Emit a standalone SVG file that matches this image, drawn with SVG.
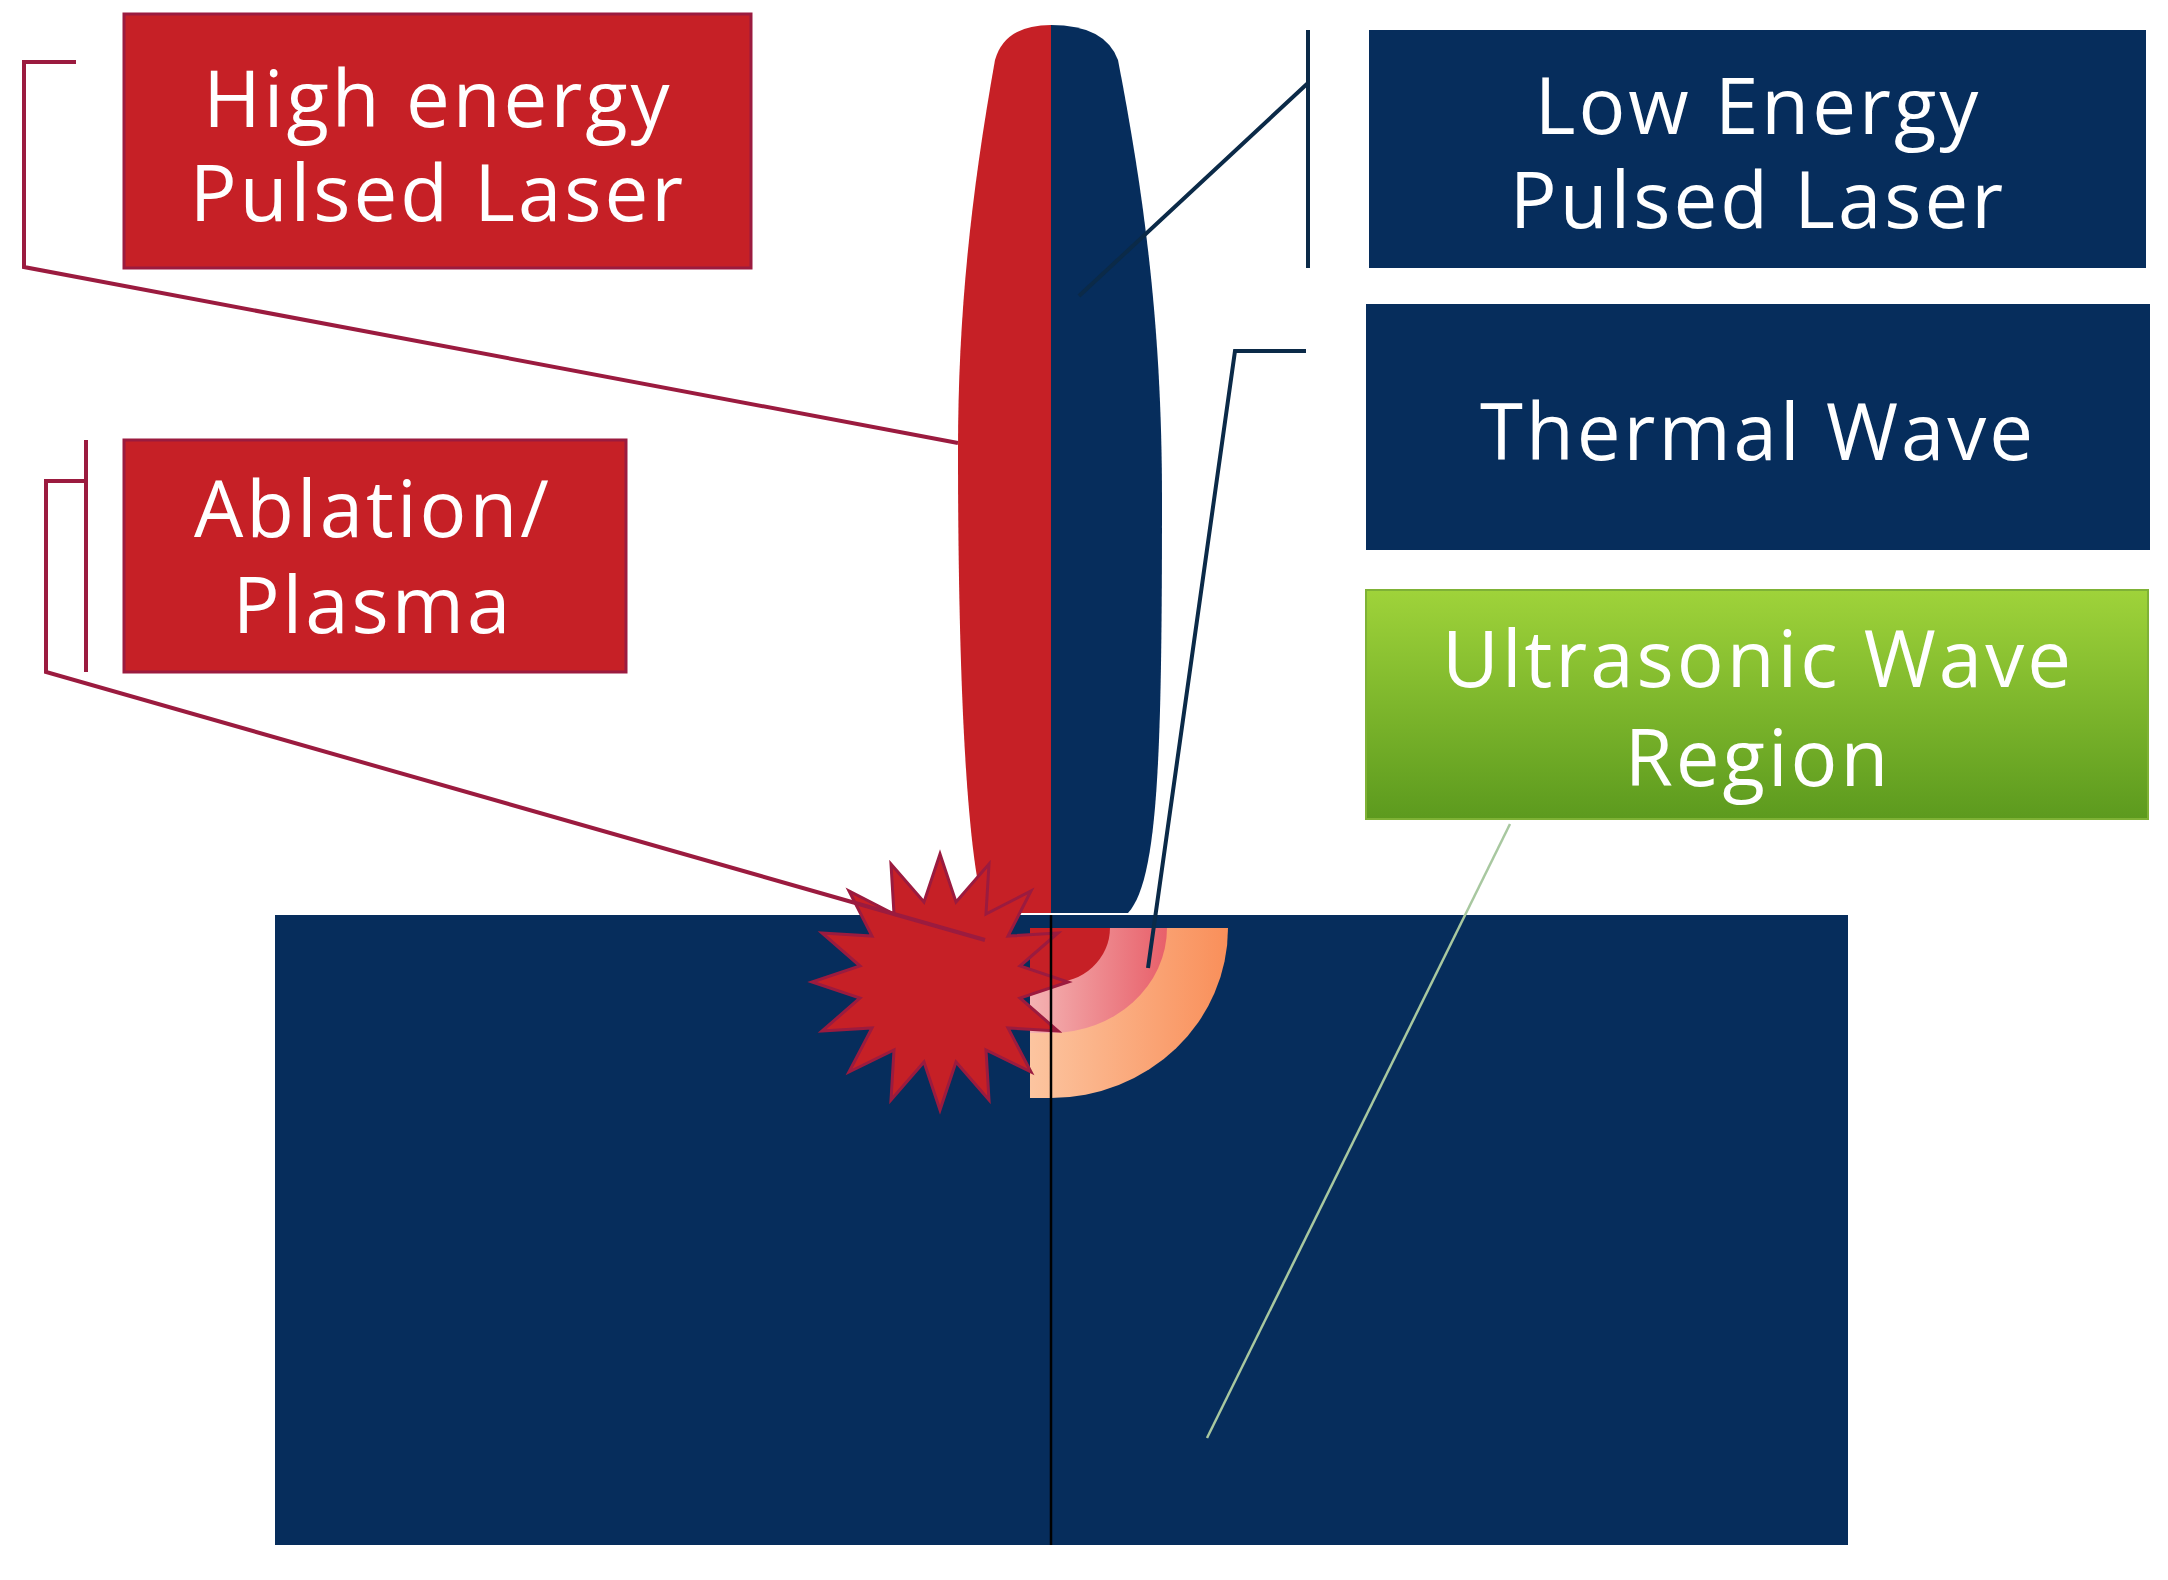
<svg xmlns="http://www.w3.org/2000/svg" width="2168" height="1580" viewBox="0 0 2168 1580">
<defs>
<linearGradient id="g" x1="0" y1="0" x2="0" y2="1"><stop offset="0" stop-color="#9fd33a"/><stop offset="1" stop-color="#5c9a1e"/></linearGradient>
<linearGradient id="pk" x1="0" y1="0" x2="1" y2="0"><stop offset="0" stop-color="#f4b3b3"/><stop offset="1" stop-color="#e8606a"/></linearGradient>
<linearGradient id="or" x1="0" y1="0" x2="1" y2="0"><stop offset="0" stop-color="#fcc5a0"/><stop offset="1" stop-color="#f98f5a"/></linearGradient>
</defs>
<style>
.t{font-family:"Open Sans","Liberation Sans",sans-serif;font-size:78px;letter-spacing:3px;fill:#fff;text-anchor:middle}
.red{fill:#c62026;stroke:#9b1b3f;stroke-width:3}
.blue{fill:#062d5c}
.rl{fill:none;stroke:#9b1b3f;stroke-width:4}
.bl{fill:none;stroke:#0b2a48;stroke-width:4}
</style>
<rect width="2168" height="1580" fill="#fff"/>
<g id="substrate"><rect x="275" y="915" width="1573" height="630" class="blue"/></g>
<g id="lens">
<path d="M1051,25 Q1005,25 995,60 C970,200 958,320 958,450 C958,700 968,860 985,913 L1051,913 Z" fill="#c62026"/>
<path d="M1051,25 Q1105,25 1118,60 C1145,200 1162,330 1162,500 C1162,760 1158,880 1128,913 L1051,913 Z" fill="#062d5c"/>
</g>
<g id="thermal-zone">
<path d="M1030,928 L1228,928 A177,170 0 0 1 1051,1098 L1030,1098 Z" fill="url(#or)"/>
<path d="M1030,928 L1167,928 A116,105 0 0 1 1051,1033 L1030,1033 Z" fill="url(#pk)"/>
<path d="M1030,928 L1110,928 A59,55 0 0 1 1051,983 L1030,983 Z" fill="#c62026"/>
</g>
<g id="plasma">
<path class="red" d="M1068,982 L1020,998 L1058,1031 L1008,1028 L1031,1072 L986,1050 L989,1100 L956,1062 L940,1110 L924,1062 L891,1100 L894,1050 L849,1072 L872,1028 L822,1031 L860,998 L812,982 L860,966 L822,933 L872,936 L849,891 L894,914 L891,864 L924,902 L940,854 L956,902 L989,864 L986,914 L1031,891 L1008,936 L1058,933 L1020,966 Z"/>
</g>
<g id="connectors">
<path class="rl" d="M76,62 H24 V267 L958,443"/>
<path class="rl" d="M86,440 V672 M86,481 H46 V672 L985,940"/>
<path class="bl" d="M1308,30 V268 M1308,83 L1079,296"/>
<path class="bl" d="M1306,351 H1235 L1148,968"/>
<path d="M1510,824 L1207,1438" stroke="#a8c8a0" stroke-width="2.5" fill="none"/>
<path d="M1051,915 V1545" stroke="#000" stroke-width="2.5"/>
</g>
<g id="high-energy"><rect x="124" y="14" width="627" height="254" class="red"/><text class="t" x="438" y="127">High energy</text><text class="t" x="438" y="221">Pulsed Laser</text></g>
<g id="ablation"><rect x="124" y="440" width="502" height="232" class="red"/><text class="t" x="373" y="537">Ablation/</text><text class="t" x="373" y="633">Plasma</text></g>
<g id="low-energy"><rect x="1369" y="30" width="777" height="238" class="blue"/><text class="t" x="1758" y="134">Low Energy</text><text class="t" x="1758" y="228">Pulsed Laser</text></g>
<g id="thermal"><rect x="1366" y="304" width="784" height="246" class="blue"/><text class="t" x="1758" y="460">Thermal Wave</text></g>
<g id="ultrasonic"><rect x="1366" y="590" width="782" height="229" fill="url(#g)" stroke="#7fb236" stroke-width="2"/><text class="t" x="1758" y="687">Ultrasonic Wave</text><text class="t" x="1758" y="786">Region</text></g>
</svg>
